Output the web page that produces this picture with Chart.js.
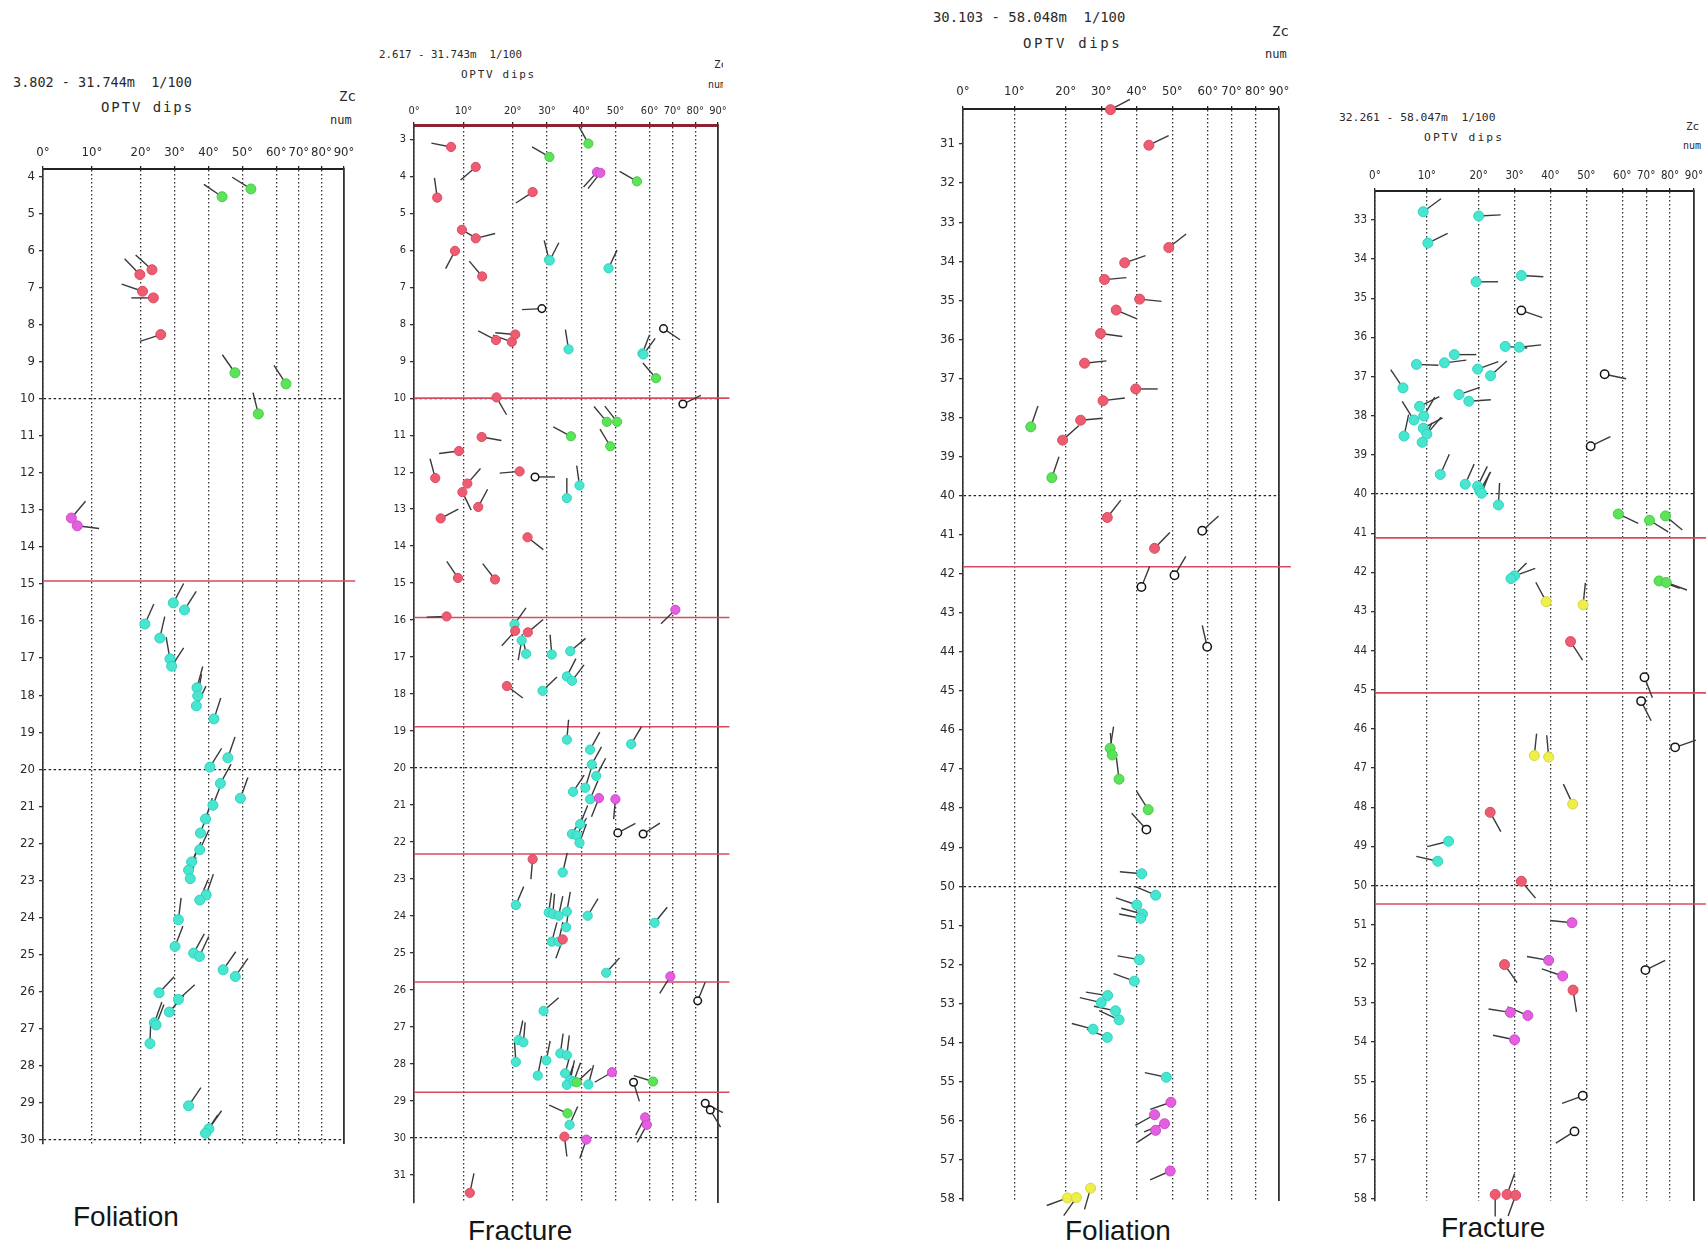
<!DOCTYPE html>
<html>
<head>
<meta charset="utf-8">
<title>OPTV dips – Foliation / Fracture</title>
<script src="https://cdn.jsdelivr.net/npm/chart.js@4.4.1/dist/chart.umd.min.js"></script>
<style>
  html, body { margin: 0; padding: 0; background: #ffffff; }
  body { position: relative; width: 1708px; height: 1251px; overflow: hidden; }
  canvas { position: absolute; }
  .hdr { position: absolute; white-space: pre; font-family: 'DejaVu Sans Mono', 'Liberation Mono', monospace; color: #2a2a2a; line-height: 1; }
  .clip { position: absolute; overflow: hidden; }
  .foot { position: absolute; white-space: pre; font-family: 'Liberation Sans', Arial, sans-serif; font-size: 28px; line-height: 1; color: #151515; }
</style>
</head>
<body>

<!-- log headers -->
<div class="hdr" style="left:13px;top:76px;font-size:13.5px">3.802 - 31.744m  1/100</div>
<div class="hdr" style="left:101px;top:100px;font-size:14px;letter-spacing:1.9px">OPTV dips</div>
<div class="clip" style="left:320px;top:80px;width:36px;height:50px">
  <div class="hdr" style="left:19px;top:9px;font-size:14px">Zc</div>
  <div class="hdr" style="left:10px;top:34px;font-size:12px">num</div>
</div>

<div class="hdr" style="left:379px;top:50px;font-size:10.8px">2.617 - 31.743m  1/100</div>
<div class="hdr" style="left:461px;top:69px;font-size:11px;letter-spacing:1.7px">OPTV dips</div>
<div class="clip" style="left:700px;top:55px;width:23px;height:40px">
  <div class="hdr" style="left:14px;top:4px;font-size:11px">Zc</div>
  <div class="hdr" style="left:8px;top:25px;font-size:10px">num</div>
</div>

<div class="hdr" style="left:933px;top:11px;font-size:13.9px">30.103 - 58.048m  1/100</div>
<div class="hdr" style="left:1023px;top:36px;font-size:14px;letter-spacing:2.6px">OPTV dips</div>
<div class="clip" style="left:1255px;top:18px;width:37px;height:50px">
  <div class="hdr" style="left:17px;top:6px;font-size:14px">Zc</div>
  <div class="hdr" style="left:10px;top:30px;font-size:12px">num</div>
</div>

<div class="hdr" style="left:1339px;top:112px;font-size:11.3px">32.261 - 58.047m  1/100</div>
<div class="hdr" style="left:1424px;top:132px;font-size:11.3px;letter-spacing:2.1px">OPTV dips</div>
<div class="clip" style="left:1675px;top:115px;width:26px;height:40px">
  <div class="hdr" style="left:11px;top:6px;font-size:11px">Zc</div>
  <div class="hdr" style="left:8px;top:26px;font-size:10px">num</div>
</div>

<!-- log captions -->
<div class="foot" style="left:73px;top:1203px">Foliation</div>
<div class="foot" style="left:468px;top:1217px">Fracture</div>
<div class="foot" style="left:1065px;top:1217px">Foliation</div>
<div class="foot" style="left:1441px;top:1214px">Fracture</div>

<script>
// ---------------------------------------------------------------
// Tadpole rows: [depth (m), dip (deg), dip direction (deg from N)]
// ---------------------------------------------------------------

// Log 1 – foliation, 3.802–31.744 m
const fol1Depth = [3.802, 30.1];
const fol1Zones = [14.92];
const fol1Green = [
  [4.34, 52.5, 302], [4.55, 44.0, 304], [9.30, 47.8, 325], [9.60, 64.3, 327], [10.41, 54.7, 346]
];
const fol1Red = [
  [6.52, 23.3, 312], [6.65, 19.8, 316], [7.10, 20.5, 289], [7.28, 23.7, 270], [8.27, 25.9, 252]
];
const fol1Magenta = [
  [13.22, 5.8, 40], [13.43, 7.0, 97]
];
const fol1Cyan = [
  [15.51, 29.6, 28], [15.70, 32.9, 32], [16.08, 21.2, 24], [16.46, 25.6, 13], [17.02, 28.6, 350],
  [17.22, 29.1, 33], [17.80, 36.6, 15], [18.02, 36.8, 10], [18.29, 36.4, 26], [18.64, 41.6, 18],
  [19.69, 45.7, 19], [19.94, 40.4, 32], [20.38, 43.5, 29], [20.78, 49.4, 20], [20.97, 41.3, 21],
  [21.34, 39.1, 18], [21.72, 37.6, 20], [22.17, 37.4, 25], [22.50, 35.0, 25], [22.72, 34.1, 24],
  [22.95, 34.6, 15], [23.39, 39.3, 19], [23.53, 37.4, 22], [24.06, 31.1, 7], [24.78, 30.1, 21],
  [24.96, 35.6, 29], [25.05, 37.3, 25], [25.41, 44.3, 35], [25.59, 47.9, 35], [26.03, 25.4, 43],
  [26.21, 31.1, 48], [26.55, 28.4, 41], [26.84, 24.0, 20], [26.90, 24.5, 21], [27.40, 22.7, 2],
  [29.08, 34.1, 34], [29.70, 40.1, 35], [29.82, 39.1, 34]
];

// Log 2 – fractures, 2.617–31.743 m
const frac2Depth = [2.617, 31.743];
const frac2Zones = [10.0, 15.93, 18.88, 22.32, 25.78, 28.76];
const frac2Red = [
  [3.21, 7.5, 281], [3.75, 12.5, 229], [4.58, 4.7, 352], [4.43, 25.8, 237], [5.45, 9.7, 120],
  [5.68, 12.5, 76], [6.02, 8.3, 208], [6.71, 13.8, 320], [8.43, 16.6, 297], [8.48, 19.8, 290],
  [8.28, 20.7, 275], [9.98, 16.7, 150], [11.05, 13.7, 100], [11.43, 9.1, 263], [12.16, 4.3, 345],
  [11.98, 22.0, 265], [12.31, 10.8, 41], [12.54, 9.8, 154], [12.94, 13.0, 28], [13.25, 5.4, 62],
  [13.76, 24.3, 128], [14.86, 8.9, 326], [14.90, 16.4, 322], [15.90, 6.6, 268], [16.29, 20.7, 222],
  [16.33, 24.4, 50], [17.78, 18.8, 127], [22.46, 25.8, 185], [24.63, 34.6, 200], [29.96, 35.1, 173],
  [31.48, 11.3, 12]
];
const frac2Green = [
  [3.12, 42.1, 331], [3.48, 30.7, 300], [4.14, 56.3, 300], [9.46, 62.8, 319], [10.64, 47.5, 320],
  [10.64, 50.5, 322], [11.03, 37.0, 298], [11.30, 48.5, 329], [28.49, 38.7, 47], [28.47, 61.5, 287],
  [29.33, 36.0, 294]
];
const frac2Magenta = [
  [3.89, 44.6, 222], [3.91, 45.6, 218], [15.72, 71.3, 226], [20.81, 45.2, 202], [20.84, 50.0, 185],
  [25.63, 69.1, 212], [28.22, 49.0, 240], [29.44, 58.7, 208], [29.64, 59.2, 209], [30.04, 41.5, 199]
];
const frac2Cyan = [
  [6.26, 30.6, 346], [6.28, 30.8, 27], [6.49, 48.0, 25], [8.68, 36.3, 351], [8.79, 57.9, 21],
  [8.82, 58.2, 36], [12.36, 39.5, 352], [12.70, 35.8, 0], [16.11, 20.5, 35], [16.55, 22.6, 190],
  [16.91, 23.9, 348], [16.93, 31.4, 355], [16.84, 36.8, 50], [17.52, 35.8, 27], [17.64, 37.3, 37],
  [17.91, 28.7, 46], [19.23, 35.8, 5], [19.35, 54.6, 31], [19.50, 42.6, 29], [19.90, 43.1, 29],
  [20.21, 44.4, 28], [20.53, 41.2, 17], [20.64, 37.6, 34], [20.84, 42.6, 23], [21.51, 39.7, 22],
  [21.78, 37.3, 32], [21.82, 38.7, 29], [22.02, 39.5, 20], [22.82, 34.6, 13], [23.70, 20.9, 23],
  [23.90, 30.5, 8], [23.94, 31.7, 5], [23.99, 33.4, 12], [23.88, 35.8, 10], [24.30, 35.6, 8],
  [24.69, 31.4, 15], [24.69, 33.4, 12], [23.99, 41.9, 31], [24.18, 62.2, 39], [25.53, 47.3, 42],
  [26.56, 29.0, 49], [27.35, 21.7, 12], [27.41, 23.1, 5], [27.94, 20.9, 356], [28.31, 27.3, 11],
  [27.90, 29.8, 11], [27.71, 33.9, 8], [27.76, 35.8, 7], [28.25, 35.3, 15], [28.43, 36.8, 12],
  [28.56, 35.8, 18], [28.47, 37.8, 20], [28.55, 42.1, 15], [29.64, 36.6, 24]
];
const frac2Open = [
  [7.58, 28.5, 267], [8.12, 66.1, 124], [10.16, 74.6, 64], [12.13, 26.5, 90], [21.75, 50.7, 62],
  [21.78, 58.1, 57], [26.29, 81.1, 22], [28.49, 55.3, 163], [29.06, 84.4, 118], [29.24, 86.6, 149]
];

// Log 3 – foliation, 30.103–58.048 m
const fol3Depth = [30.103, 58.048];
const fol3Zones = [41.82];
const fol3Red = [
  [30.12, 32.6, 62], [31.03, 43.4, 64], [33.65, 49.0, 52], [34.04, 36.6, 71], [34.47, 30.9, 85],
  [34.97, 40.8, 96], [35.25, 34.2, 113], [35.85, 29.8, 98], [36.61, 25.3, 84], [37.27, 39.7, 90],
  [37.57, 30.5, 83], [38.07, 24.2, 85], [38.58, 19.4, 48], [40.56, 31.7, 38], [41.35, 45.0, 44]
];
const fol3Green = [
  [38.24, 13.2, 19], [39.54, 17.3, 19], [46.47, 32.5, 9], [46.64, 33.1, 355], [47.26, 35.0, 353],
  [48.04, 43.2, 328]
];
const fol3Cyan = [
  [49.68, 41.4, 275], [50.23, 45.3, 293], [50.48, 40.0, 289], [50.71, 41.6, 285], [50.82, 41.1, 281],
  [51.88, 40.7, 280], [52.43, 39.3, 290], [52.80, 31.8, 279], [52.98, 30.0, 283], [53.19, 34.0, 282],
  [53.42, 35.0, 295], [53.66, 27.7, 285], [53.87, 31.7, 292], [54.89, 48.3, 282]
];
const fol3Magenta = [
  [55.53, 49.6, 251], [55.85, 45.0, 241], [56.08, 47.8, 248], [56.25, 45.3, 237], [57.29, 49.4, 246]
];
const fol3Yellow = [
  [57.98, 20.5, 250], [57.97, 23.0, 215], [57.73, 27.0, 196]
];
const fol3Open = [
  [40.90, 58.4, 48], [42.04, 50.6, 31], [42.34, 41.3, 22], [43.87, 59.8, 347], [48.55, 42.7, 318]
];

// Log 4 – fractures, 32.261–58.047 m
const frac4Depth = [32.261, 58.047];
const frac4Zones = [41.12, 45.08, 50.47];
const frac4Cyan = [
  [32.79, 9.3, 54], [32.90, 20.0, 87], [33.59, 10.2, 64], [34.42, 31.9, 93], [34.58, 19.5, 90],
  [36.23, 27.4, 94], [36.25, 31.3, 84], [36.44, 15.3, 90], [36.65, 13.4, 83], [36.69, 8.0, 92],
  [36.81, 19.8, 70], [36.98, 23.3, 48], [37.29, 5.4, 326], [37.46, 16.2, 71], [37.63, 18.1, 86],
  [37.76, 8.6, 64], [38.01, 9.4, 30], [38.11, 7.5, 328], [38.32, 9.3, 62], [38.47, 10.0, 40],
  [38.52, 5.6, 12], [38.68, 9.1, 27], [39.50, 12.6, 24], [39.75, 17.4, 24], [39.80, 19.8, 26],
  [39.92, 20.3, 30], [39.98, 20.8, 22], [40.28, 25.5, 3], [42.09, 30.0, 70], [42.16, 29.0, 45],
  [48.87, 14.2, 256], [49.38, 12.1, 283]
];
const frac4Green = [
  [40.51, 58.9, 115], [40.67, 71.4, 122], [40.56, 78.1, 130], [42.22, 75.4, 110], [42.26, 78.4, 110]
];
const frac4Yellow = [
  [42.75, 38.8, 332], [42.83, 49.1, 6], [46.68, 35.5, 6], [46.72, 39.5, 355], [47.92, 46.2, 335]
];
const frac4Red = [
  [43.77, 45.6, 147], [48.13, 23.2, 151], [49.89, 31.9, 140], [52.02, 27.2, 145], [52.67, 46.3, 171],
  [57.89, 24.6, 180], [57.89, 27.9, 20], [57.91, 30.3, 200]
];
const frac4Magenta = [
  [50.95, 46.0, 276], [51.91, 39.5, 280], [52.31, 43.4, 289], [53.24, 28.8, 279], [53.32, 33.7, 293],
  [53.94, 30.0, 282]
];
const frac4Open = [
  [35.31, 31.9, 109], [36.94, 55.1, 102], [38.78, 51.2, 64], [44.68, 69.3, 159], [45.29, 67.9, 153],
  [46.47, 82.1, 71], [52.16, 69.7, 64], [55.37, 49.0, 250], [56.28, 46.7, 238]
];

// Dip axis tick values
const dipTicks = [0, 10, 20, 30, 40, 50, 60, 70, 80, 90];

// ---------------------------------------------------------------
// Dip axis projection: stretched at low dips, compressed at high dips
// ---------------------------------------------------------------
const DIP_BREAKS = [[0, 0], [20, 0.325], [60, 0.775], [90, 1]];
function dipFraction(v) {
  const b = DIP_BREAKS;
  for (let i = 1; i < b.length; i++) {
    if (v <= b[i][0] || i === b.length - 1) {
      const [v0, f0] = b[i - 1], [v1, f1] = b[i];
      return f0 + (v - v0) * (f1 - f0) / (v1 - v0);
    }
  }
  return 0;
}
function dipFromFraction(f) {
  const b = DIP_BREAKS;
  for (let i = 1; i < b.length; i++) {
    if (f <= b[i][1] || i === b.length - 1) {
      const [v0, f0] = b[i - 1], [v1, f1] = b[i];
      return v0 + (f - f0) * (v1 - v0) / (f1 - f0);
    }
  }
  return 0;
}
class DipScale extends Chart.LinearScale {
  static id = 'dip';
  static defaults = Chart.LinearScale.defaults;
  getPixelForValue(value) {
    if (value === null || value === undefined || Number.isNaN(value)) return NaN;
    return this.getPixelForDecimal(dipFraction(value));
  }
  getValueForPixel(pixel) {
    return dipFromFraction(this.getDecimalForPixel(pixel));
  }
}
Chart.register(DipScale);

Chart.defaults.animation = false;
Chart.defaults.color = '#2a2a2a';

const STYLE = {
  red:     { fill: '#EE5C72', stroke: '#DC4A61', bw: 1 },
  green:   { fill: '#5CE35A', stroke: '#44CC44', bw: 1 },
  cyan:    { fill: '#48E6D0', stroke: '#2FD3BD', bw: 1 },
  magenta: { fill: '#E35FE0', stroke: '#CF49CC', bw: 1 },
  yellow:  { fill: '#EEEE4C', stroke: '#D6D63A', bw: 1 },
  open:    { fill: '#FFFFFF', stroke: '#151515', bw: 1.5 }
};
const ZONE_COLOR = '#D84B5E';
const ZONE_END = 95;
const TAIL_COLOR = '#3a3a3a';
const TICK_FONT = "'DejaVu Sans Condensed','Liberation Sans Narrow','DejaVu Sans',sans-serif";

function buildPanel(p) {
  const leftW = 38, padR = 24, padB = 16;
  const w = Math.round(p.R - p.L + leftW + padR);
  const h = Math.round(p.B - p.T + p.topH + padB);
  const cv = document.createElement('canvas');
  cv.width = w; cv.height = h;
  cv.style.left = (p.L - leftW) + 'px';
  cv.style.top = (p.T - p.topH) + 'px';
  cv.style.width = w + 'px';
  cv.style.height = h + 'px';
  document.body.appendChild(cv);

  const datasets = [];
  p.zones.forEach(d => datasets.push({
    type: 'line',
    data: [{ x: 0, y: d }, { x: ZONE_END, y: d }],
    borderColor: ZONE_COLOR, borderWidth: 1.6,
    pointRadius: 0, clip: false, order: 6
  }));
  p.groups.forEach(([kind, rows]) => {
    const st = STYLE[kind];
    const pts = rows.map(r => ({ x: r[1], y: r[0] }));
    // tail pointing in the dip direction
    datasets.push({
      data: pts, showLine: false, clip: false, order: 4,
      pointStyle: 'dash', pointRadius: p.tail,
      pointBorderColor: TAIL_COLOR, pointBorderWidth: 1.4,
      pointRotation: c => rows[c.dataIndex][2] - 90
    });
    // tadpole head
    datasets.push({
      data: pts, showLine: false, clip: false, order: kind === 'open' ? 2 : 1,
      pointStyle: 'circle', pointRadius: kind === 'open' ? p.head - 0.8 : p.head,
      pointBackgroundColor: st.fill, pointBorderColor: st.stroke, pointBorderWidth: st.bw
    });
  });

  new Chart(cv, {
    type: 'scatter',
    data: { datasets },
    options: {
      responsive: false,
      devicePixelRatio: 1,
      events: [],
      plugins: { legend: { display: false }, tooltip: { enabled: false } },
      layout: { padding: { left: 0, top: 0, right: padR, bottom: padB } },
      scales: {
        x: {
          type: 'dip', position: 'top', min: 0, max: 90,
          afterBuildTicks: s => { s.ticks = dipTicks.map(v => ({ value: v })); },
          afterFit: s => { s.height = p.topH; },
          ticks: {
            autoSkip: false, maxRotation: 0, minRotation: 0,
            padding: p.xPad, color: '#2a2a2a',
            font: { family: TICK_FONT, size: p.font }
            , callback: v => v + '\u00B0'
          },
          grid: { color: '#333', lineWidth: 1.3, tickLength: 3, tickColor: '#222' },
          border: { display: true, color: p.topColor, width: p.topWidth, dash: [1.5, 2.5] }
        },
        y: {
          type: 'linear', position: 'left', reverse: true,
          min: p.range[0], max: p.range[1],
          afterFit: s => { s.width = leftW; },
          ticks: {
            stepSize: 1, includeBounds: false, autoSkip: false,
            padding: 4, color: '#2a2a2a',
            font: { family: TICK_FONT, size: p.font }
          },
          grid: {
            color: c => (c.tick && Math.abs(c.tick.value % 10) < 1e-6) ? '#222' : 'rgba(0,0,0,0)',
            lineWidth: 1.3, tickLength: 4, tickColor: '#333'
          },
          border: { display: true, color: '#333', width: 1.6, dash: [2.5, 2.5] }
        },
        yr: {
          type: 'linear', position: 'right', reverse: true,
          min: p.range[0], max: p.range[1],
          afterFit: s => { s.width = 0; },
          ticks: { display: false },
          grid: { drawOnChartArea: false, drawTicks: false },
          border: { display: true, color: '#333', width: 1.8 }
        }
      }
    }
  });
}

const panels = [
  { range: fol1Depth, zones: fol1Zones,
    groups: [['green', fol1Green], ['red', fol1Red], ['magenta', fol1Magenta], ['cyan', fol1Cyan]],
    L: 43, R: 344, T: 169, B: 1151, topH: 30, xPad: 6, font: 13, head: 5, tail: 22,
    topColor: '#222', topWidth: 2 },
  { range: frac2Depth, zones: frac2Zones,
    groups: [['red', frac2Red], ['green', frac2Green], ['magenta', frac2Magenta], ['cyan', frac2Cyan], ['open', frac2Open]],
    L: 414, R: 718, T: 125, B: 1208, topH: 26, xPad: 4, font: 11, head: 4.6, tail: 20,
    topColor: '#8A2433', topWidth: 3 },
  { range: fol3Depth, zones: fol3Zones,
    groups: [['red', fol3Red], ['green', fol3Green], ['cyan', fol3Cyan], ['magenta', fol3Magenta], ['yellow', fol3Yellow], ['open', fol3Open]],
    L: 963, R: 1279, T: 109, B: 1208, topH: 30, xPad: 7, font: 13, head: 5, tail: 22,
    topColor: '#222', topWidth: 2 },
  { range: frac4Depth, zones: frac4Zones,
    groups: [['cyan', frac4Cyan], ['green', frac4Green], ['yellow', frac4Yellow], ['red', frac4Red], ['magenta', frac4Magenta], ['open', frac4Open]],
    L: 1375, R: 1694, T: 191, B: 1208, topH: 28, xPad: 5, font: 11.5, head: 5, tail: 22,
    topColor: '#222', topWidth: 2 }
];
panels.forEach(buildPanel);
</script>
</body>
</html>
